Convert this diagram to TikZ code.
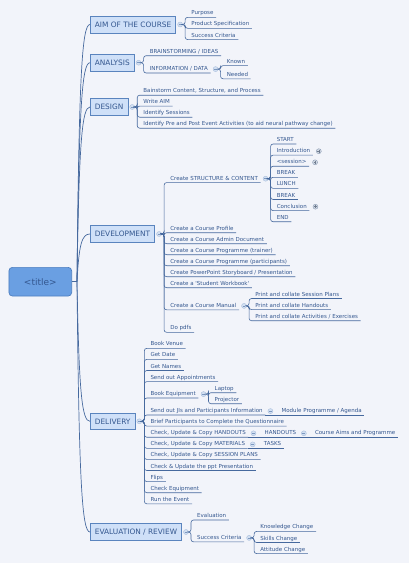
\documentclass[tikz,border=0pt]{standalone}
\usepackage{fontspec}
\setmainfont{DejaVu Sans}
\usetikzlibrary{calc}
\definecolor{bg}{HTML}{F2F4FA}
\definecolor{txt}{HTML}{34578F}
\definecolor{ln}{HTML}{46699E}
\definecolor{mainfill}{HTML}{CFE0F8}
\definecolor{mainline}{HTML}{5A84BE}
\definecolor{titlefill}{HTML}{6A9FE2}
\definecolor{titleline}{HTML}{4E7FC0}
\definecolor{colfill}{HTML}{D3E0F2}
\definecolor{colline}{HTML}{A9BEDC}
\definecolor{expfill}{HTML}{D2D9E4}
\definecolor{expline}{HTML}{8C9CB4}
\newcommand\kidline[2]{\draw[conn] (#1) -| ([xshift=-3.5pt]#2.south west) -- (#2.south east);}
\begin{document}
\begin{tikzpicture}[x=1pt,y=-1pt,
  leaf/.style={font=\fontsize{5.5}{6.6}\selectfont, text=txt, inner xsep=2.5pt, inner ysep=0.9pt, text height=4.2pt, text depth=1.4pt, anchor=south west},
  kid/.style={leaf, xshift=8.5pt},
  conn/.style={draw=ln, line width=0.6pt, rounded corners=2.5pt},
  rootconn/.style={draw=ln, line width=0.7pt},
  mainbox/.style={draw=mainline, fill=mainfill, line width=0.7pt, font=\fontsize{7.4}{8.8}\selectfont, text=txt, inner xsep=4.5pt, inner ysep=0pt, minimum height=16.7pt, anchor=west},
  titlebox/.style={draw=titleline, fill=titlefill, line width=0.7pt, rounded corners=3.5pt, font=\fontsize{9}{10.8}\selectfont, text=txt, minimum width=62.7pt, minimum height=28.7pt, inner sep=0pt},
  collapse/.style={circle, minimum size=5pt, inner sep=0pt, fill=colfill, draw=colline, line width=0.4pt,
    path picture={\draw[ln!45!colline, line width=0.5pt] ([xshift=-1.4pt]path picture bounding box.center) -- ([xshift=1.4pt]path picture bounding box.center);}},
  expand/.style={circle, minimum size=5pt, inner sep=0pt, fill=expfill, draw=expline, line width=0.4pt,
    path picture={\draw[expline!80!black, line width=0.5pt] ([xshift=-1.4pt]path picture bounding box.center) -- ([xshift=1.4pt]path picture bounding box.center) ([yshift=-1.4pt]path picture bounding box.center) -- ([yshift=1.4pt]path picture bounding box.center);}}
]
\fill[bg] (0,0) rectangle (409,563);
\useasboundingbox (0,0) rectangle (409,563);

% root
\node[titlebox] (root) at (40.3,281.7) {\textless title\textgreater};

% main branches
\node[mainbox] (aim) at (90,24.5) {AIM OF THE COURSE};
\node[mainbox] (analysis) at (90,62.7) {ANALYSIS};
\node[mainbox] (design) at (90,107) {DESIGN};
\node[mainbox] (dev) at (90,234) {DEVELOPMENT};
\node[mainbox] (delivery) at (90,421.3) {DELIVERY};
\node[mainbox] (eval) at (90,532) {EVALUATION / REVIEW};

\coordinate (J) at (77,281.7);
\draw[rootconn] (root.east) -- (J);
\foreach \b in {aim,analysis,design,dev,delivery,eval}{
  \draw[rootconn] (J) .. controls ($(J)!0.8!(J|-\b.west)+(2,0)$) and ([xshift=-8pt]\b.west) .. (\b.west);}

% AIM OF THE COURSE
\node[collapse] (caim) at ([xshift=4pt]aim.east) {};
\node[kid] (aim1) at (caim.center |- 0,17.3) {Purpose};
\node[kid] (aim2) at (caim.center |- 0,28.3) {Product Specification};
\node[kid] (aim3) at (caim.center |- 0,39.6) {Success Criteria};
\foreach \n in {aim1,aim2,aim3}{\kidline{caim.east}{\n}}

% ANALYSIS
\node[collapse] (can) at ([xshift=4pt]analysis.east) {};
\node[kid] (an1) at (can.center |- 0,55.7) {BRAINSTORMING / IDEAS};
\node[kid] (an2) at (can.center |- 0,73) {INFORMATION / DATA};
\foreach \n in {an1,an2}{\kidline{can.east}{\n}}
\node[collapse] (can2) at ([xshift=5pt]an2.east) {};
\node[kid] (kn) at (can2.center |- 0,65.6) {Known};
\node[kid] (nd) at (can2.center |- 0,78.8) {Needed};
\foreach \n in {kn,nd}{\kidline{can2.east}{\n}}

% DESIGN
\node[collapse] (cde) at ([xshift=4pt]design.east) {};
\node[kid] (d1) at (cde.center |- 0,95.2) {Bainstorm Content, Structure, and Process};
\node[kid] (d2) at (cde.center |- 0,106.1) {Write AIM};
\node[kid] (d3) at (cde.center |- 0,117.2) {Identify Sessions};
\node[kid] (d4) at (cde.center |- 0,128.2) {Identify Pre and Post Event Activities (to aid neural pathway change)};
\foreach \n in {d1,d2,d3,d4}{\kidline{cde.east}{\n}}

% DEVELOPMENT
\node[collapse] (cdv) at ([xshift=4pt]dev.east) {};
\node[kid] (s0) at (cdv.center |- 0,182.6) {Create STRUCTURE \& CONTENT};
\node[kid] (dv1) at (cdv.center |- 0,232.7) {Create a Course Profile};
\node[kid] (dv2) at (cdv.center |- 0,243.7) {Create a Course Admin Document};
\node[kid] (dv3) at (cdv.center |- 0,254.7) {Create a Course Programme (trainer)};
\node[kid] (dv4) at (cdv.center |- 0,265.7) {Create a Course Programme (participants)};
\node[kid] (dv5) at (cdv.center |- 0,276.7) {Create PowerPoint Storyboard / Presentation};
\node[kid] (dv6) at (cdv.center |- 0,287.7) {Create a \textquotesingle Student Workbook\textquotesingle};
\node[kid] (dv7) at (cdv.center |- 0,309.8) {Create a Course Manual};
\node[kid] (dv8) at (cdv.center |- 0,332.3) {Do pdfs};
\foreach \n in {s0,dv1,dv2,dv3,dv4,dv5,dv6,dv7,dv8}{\kidline{cdv.east}{\n}}

\node[collapse] (cs0) at ([xshift=5pt]s0.east) {};
\node[kid] (st1) at (cs0.center |- 0,144.0) {START};
\node[kid] (st2) at (cs0.center |- 0,155.1) {Introduction};
\node[kid] (st3) at (cs0.center |- 0,166.2) {\textless session\textgreater};
\node[kid] (st4) at (cs0.center |- 0,177.3) {BREAK};
\node[kid] (st5) at (cs0.center |- 0,188.4) {LUNCH};
\node[kid] (st6) at (cs0.center |- 0,199.5) {BREAK};
\node[kid] (st7) at (cs0.center |- 0,210.6) {Conclusion};
\node[kid] (st8) at (cs0.center |- 0,221.7) {END};
\foreach \n in {st1,st2,st3,st4,st5,st6,st7,st8}{\kidline{cs0.east}{\n}}
\node[expand] (e2) at ([xshift=6pt]st2.east) {};
\node[expand] (e3) at ([xshift=6pt]st3.east) {};
\node[expand] (e7) at ([xshift=6pt]st7.east) {};

\node[collapse] (cdv7) at ([xshift=5pt]dv7.east) {};
\node[kid] (m1) at (cdv7.center |- 0,298.5) {Print and collate Session Plans};
\node[kid] (m2) at (cdv7.center |- 0,309.6) {Print and collate Handouts};
\node[kid] (m3) at (cdv7.center |- 0,320.7) {Print and collate Activities / Exercises};
\foreach \n in {m1,m2,m3}{\kidline{cdv7.east}{\n}}

% DELIVERY
\node[collapse] (cdl) at ([xshift=4pt]delivery.east) {};
\node[kid] (dl1) at (cdl.center |- 0,348.3) {Book Venue};
\node[kid] (dl2) at (cdl.center |- 0,359.4) {Get Date};
\node[kid] (dl3) at (cdl.center |- 0,370.5) {Get Names};
\node[kid] (dl4) at (cdl.center |- 0,381.6) {Send out Appointments};
\node[kid] (dl5) at (cdl.center |- 0,398.0) {Book Equipment};
\node[kid] (dl6) at (cdl.center |- 0,415.0) {Send out JIs and Participants Information};
\node[kid] (dl7) at (cdl.center |- 0,426.1) {Brief Participants to Complete the Questionnaire};
\node[kid] (dl8) at (cdl.center |- 0,437.2) {Check, Update \& Copy HANDOUTS};
\node[kid] (dl9) at (cdl.center |- 0,448.3) {Check, Update \& Copy MATERIALS};
\node[kid] (dl10) at (cdl.center |- 0,459.4) {Check, Update \& Copy SESSION PLANS};
\node[kid] (dl11) at (cdl.center |- 0,470.5) {Check \& Update the ppt Presentation};
\node[kid] (dl12) at (cdl.center |- 0,481.6) {Flips};
\node[kid] (dl13) at (cdl.center |- 0,492.7) {Check Equipment};
\node[kid] (dl14) at (cdl.center |- 0,503.8) {Run the Event};
\foreach \n in {dl1,dl2,dl3,dl4,dl5,dl6,dl7,dl8,dl9,dl10,dl11,dl12,dl13,dl14}{\kidline{cdl.east}{\n}}

\node[collapse] (cdl5) at ([xshift=5pt]dl5.east) {};
\node[kid] (eq1) at (cdl5.center |- 0,392.7) {Laptop};
\node[kid] (eq2) at (cdl5.center |- 0,403.7) {Projector};
\foreach \n in {eq1,eq2}{\kidline{cdl5.east}{\n}}

\node[collapse] (cdl6) at ([xshift=5pt]dl6.east) {};
\node[kid] (mp) at (cdl6.center |- 0,415.0) {Module Programme / Agenda};
\draw[conn] (dl6.south east) -- (mp.south east);

\node[collapse] (cdl8) at ([xshift=5pt]dl8.east) {};
\node[kid] (ho) at (cdl8.center |- 0,437.2) {HANDOUTS};
\draw[conn] (dl8.south east) -- (ho.south east);
\node[collapse] (cho) at ([xshift=5pt]ho.east) {};
\node[kid] (cap) at (cho.center |- 0,437.2) {Course Aims and Programme};
\draw[conn] (ho.south east) -- (cap.south east);

\node[collapse] (cdl9) at ([xshift=5pt]dl9.east) {};
\node[kid] (tk) at (cdl9.center |- 0,448.3) {TASKS};
\draw[conn] (dl9.south east) -- (tk.south east);

% EVALUATION / REVIEW
\node[collapse] (cev) at ([xshift=4pt]eval.east) {};
\node[kid] (ev1) at (cev.center |- 0,520.0) {Evaluation};
\node[kid] (ev2) at (cev.center |- 0,541.8) {Success Criteria};
\foreach \n in {ev1,ev2}{\kidline{cev.east}{\n}}
\node[collapse] (cev2) at ([xshift=5pt]ev2.east) {};
\node[kid] (k1) at (cev2.center |- 0,531.4) {Knowledge Change};
\node[kid] (k2) at (cev2.center |- 0,542.5) {Skills Change};
\node[kid] (k3) at (cev2.center |- 0,553.6) {Attitude Change};
\foreach \n in {k1,k2,k3}{\kidline{cev2.east}{\n}}
\end{tikzpicture}
\end{document}
